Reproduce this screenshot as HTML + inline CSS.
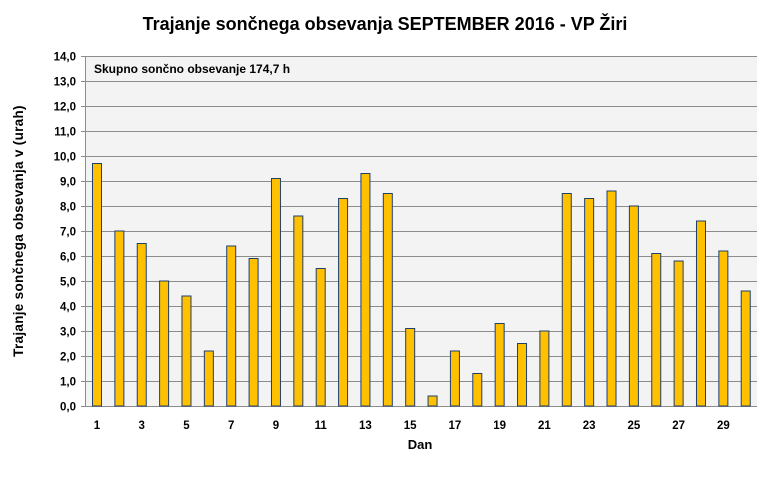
<!DOCTYPE html><html><head><style>body{margin:0;background:#fff}</style></head><body>
<svg width="770" height="477" xmlns="http://www.w3.org/2000/svg" font-family="Liberation Sans, sans-serif" font-weight="bold">
<text x="385" y="30" text-anchor="middle" font-size="18">Trajanje  sončnega obsevanja  SEPTEMBER  2016 - VP Žiri</text>
<rect x="86" y="56" width="671" height="350" fill="#f3f3f3"/>
<g stroke="#8c8c8c" stroke-width="1" id="g"></g>
<g id="b"></g>
<g id="t" font-size="11.5"></g>
<line x1="85.5" y1="56" x2="85.5" y2="406" stroke="#8c8c8c"/>
<text x="94" y="73" font-size="12">Skupno sončno obsevanje  174,7 h</text>
<text x="420" y="449" text-anchor="middle" font-size="13">Dan</text>
<text transform="translate(23,231) rotate(-90)" text-anchor="middle" font-size="13.5" letter-spacing="0.3">Trajanje  sončnega obsevanja  v (urah)</text>
</svg>
<script>
var ns="http://www.w3.org/2000/svg",g=document.getElementById('g'),b=document.getElementById('b'),t=document.getElementById('t');
function el(p,n,a,tx){var e=document.createElementNS(ns,n);for(var k in a)e.setAttribute(k,a[k]);if(tx)e.textContent=tx;p.appendChild(e);}
for(var i=0;i<=14;i++){var y=406-25*i+0.5;el(g,'line',{x1:81,x2:757,y1:y,y2:y});el(t,'text',{x:76,y:y+4,'text-anchor':'end'},i.toFixed(1).replace('.',','));}
var v=[9.7,7.0,6.5,5.0,4.4,2.2,6.4,5.9,9.1,7.6,5.5,8.3,9.3,8.5,3.1,0.4,2.2,1.3,3.3,2.5,3.0,8.5,8.3,8.6,8.0,6.1,5.8,7.4,6.2,4.6];
v.forEach(function(d,i){var x=92.5+22.37*i;el(b,'rect',{x:x,y:406-d*25,width:9,height:d*25,fill:'#ffc000',stroke:'#1f3f6f','stroke-width':1});
if(i%2==0)el(t,'text',{x:97+22.37*i,y:429,'text-anchor':'middle'},String(i+1));});
</script>
</body></html>
